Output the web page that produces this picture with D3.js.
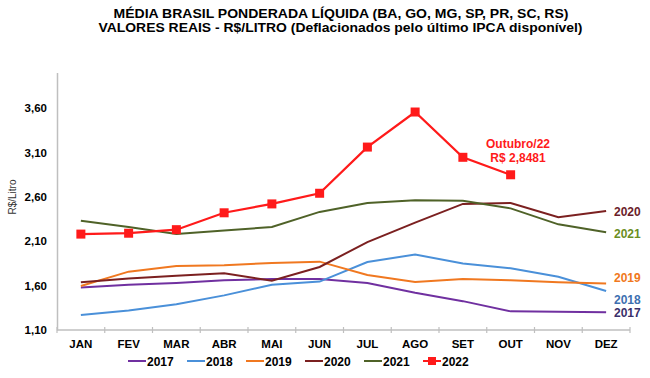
<!DOCTYPE html>
<html><head><meta charset="utf-8">
<script src="https://cdn.jsdelivr.net/npm/d3@7"></script>
<style>body{margin:0;background:#fff}svg{display:block}</style>
</head><body><svg id="c" width="650" height="378"></svg>
<script>
const months = ["JAN","FEV","MAR","ABR","MAI","JUN","JUL","AGO","SET","OUT","NOV","DEZ"];
const yTicks = [1.10, 1.60, 2.10, 2.60, 3.10, 3.60];
const s2017 = [1.58,1.61,1.63,1.66,1.675,1.675,1.63,1.52,1.425,1.31,1.305,1.30];
const s2018 = [1.27,1.32,1.39,1.49,1.61,1.645,1.865,1.95,1.85,1.795,1.70,1.54];
const s2019 = [1.595,1.757,1.82,1.83,1.855,1.87,1.72,1.64,1.675,1.66,1.637,1.625];
const s2020 = [1.637,1.68,1.71,1.74,1.655,1.81,2.09,2.31,2.52,2.53,2.37,2.44];
const s2021 = [2.33,2.26,2.18,2.22,2.26,2.43,2.53,2.56,2.555,2.47,2.29,2.20];
const s2022 = [2.18,2.19,2.23,2.42,2.52,2.64,3.16,3.555,3.045,2.8481];
const seriesNames = ["2017","2018","2019","2020","2021","2022"];
const colors = ["#7030a0","#4a90d9","#f07820","#7b2020","#4f6228","#ff1a1a"];
const labelColors = ["#3a2f6a","#3d6fb0","#f07820","#6b1d2a","#6b8e23"];
const allSeries = [s2017,s2018,s2019,s2020,s2021,s2022];

const svg = d3.select("#c");
const font = "'Liberation Sans', Arial, sans-serif";
const narrow = "'Liberation Sans Narrow', 'Liberation Sans', Arial, sans-serif";

const x = d3.scaleBand().domain(months).range([57, 630]);
const y = d3.scaleLinear().domain([1.10, 4.00]).range([330, 72.5]);

// title
svg.append("text").attr("x", 341).attr("y", 17.5).attr("text-anchor","middle")
  .attr("font-family", narrow).attr("font-weight","bold").attr("font-size",13)
  .attr("textLength",455).attr("lengthAdjust","spacingAndGlyphs")
  .text("MÉDIA BRASIL PONDERADA LÍQUIDA (BA, GO, MG, SP, PR, SC, RS)");
svg.append("text").attr("x", 340.5).attr("y", 32).attr("text-anchor","middle")
  .attr("font-family", narrow).attr("font-weight","bold").attr("font-size",13)
  .attr("textLength",484).attr("lengthAdjust","spacingAndGlyphs")
  .text("VALORES REAIS - R$/LITRO (Deflacionados  pelo último IPCA disponível)");

// y axis
const yAxis = svg.append("g").attr("transform","translate(57,0)")
  .call(d3.axisLeft(y).tickValues(yTicks).tickSize(0).tickPadding(10)
    .tickFormat(d => d3.format(".2f")(d).replace(".", ",")));
yAxis.select(".domain").attr("stroke","#bfbfbf").attr("stroke-width",1.5);
yAxis.selectAll("text").attr("font-family", font).attr("font-weight","bold")
  .attr("font-size",11.5).attr("fill","#000");

// x axis
const xAxisG = svg.append("g").attr("transform","translate(0,330)");
xAxisG.append("line").attr("x1",57).attr("x2",630).attr("stroke","#bfbfbf").attr("stroke-width",1.5);
const edges = months.map(m => x(m)).concat([x.range()[1]]);
xAxisG.selectAll("line.tk").data(edges).enter().append("line").attr("class","tk")
  .attr("x1",d=>d).attr("x2",d=>d).attr("y1",-3).attr("y2",3)
  .attr("stroke","#bfbfbf").attr("stroke-width",1.2);
xAxisG.selectAll("text").data(months).enter().append("text")
  .attr("x", d => x(d) + x.bandwidth()/2).attr("y", 18).attr("text-anchor","middle")
  .attr("font-family", font).attr("font-weight","bold").attr("font-size",11.5).text(d=>d);

// y label
svg.append("text").attr("transform","translate(16,197) rotate(-90)").attr("text-anchor","middle")
  .attr("font-family", font).attr("font-size",10).attr("fill","#333").text("R$/Litro");

const line = d3.line().x((d,i) => x(months[i]) + x.bandwidth()/2).y(d => y(d));

allSeries.forEach((s, k) => {
  svg.append("path").datum(s).attr("d", line).attr("fill","none")
    .attr("stroke", colors[k]).attr("stroke-width", k === 5 ? 2.2 : 2);
});
svg.selectAll("rect.mk").data(s2022).enter().append("rect").attr("class","mk")
  .attr("x",(d,i)=> x(months[i]) + x.bandwidth()/2 - 4.5).attr("y", d => y(d) - 4.5)
  .attr("width",9).attr("height",9).attr("fill", colors[5]);

// right labels
const labelY = [312.7, 299, 277.7, 211.7, 233];
[0,1,2,3,4].forEach(k => {
  svg.append("text").attr("x", 614).attr("y", labelY[k] + 4.5)
    .attr("font-family", font).attr("font-weight","bold").attr("font-size",12)
    .attr("fill", labelColors[k]).text(seriesNames[k]);
});

// annotation
svg.append("text").attr("x",518).attr("y",148).attr("text-anchor","middle")
  .attr("font-family", font).attr("font-weight","bold").attr("font-size",12)
  .attr("fill","#ff1a1a").text("Outubro/22");
svg.append("text").attr("x",518).attr("y",162).attr("text-anchor","middle")
  .attr("font-family", font).attr("font-weight","bold").attr("font-size",12)
  .attr("fill","#ff1a1a").text("R$ 2,8481");

// legend
const legX = [128, 187, 246, 305, 364, 423];
seriesNames.forEach((n, k) => {
  const g = svg.append("g").attr("transform", `translate(${legX[k]},361)`);
  g.append("line").attr("x1",0).attr("x2",18).attr("y1",0).attr("y2",0)
    .attr("stroke", colors[k]).attr("stroke-width",2);
  if (k === 5) g.append("rect").attr("x",5).attr("y",-4).attr("width",8).attr("height",8).attr("fill",colors[5]);
  g.append("text").attr("x",19).attr("y",4.5).attr("font-family", font).attr("font-weight","bold")
    .attr("font-size",12).text(n);
});
</script></body></html>
